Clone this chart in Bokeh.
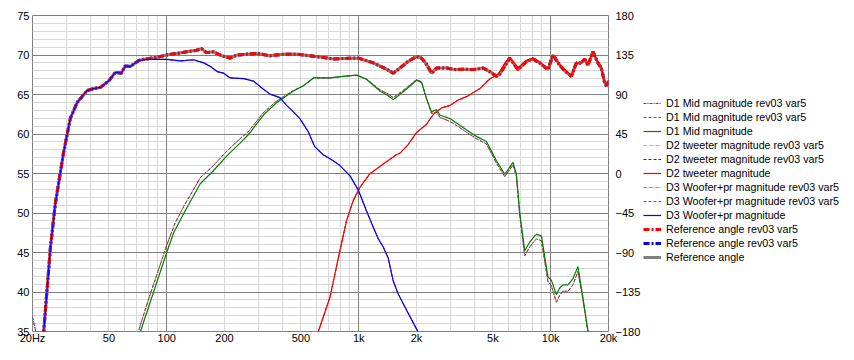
import math
from bokeh.plotting import figure
from bokeh.layouts import row
from bokeh.models import Range1d, LinearAxis, FixedTicker, Grid, Legend, LegendItem, Label
from bokeh.embed import file_html
from bokeh.resources import INLINE

NaN = float("nan")

# ---- axes / ticks ----
x_ticks = [20, 50, 100, 200, 500, 1000, 2000, 5000, 10000, 20000]
x_tick_labels = ["20Hz", "50", "100", "200", "500", "1k", "2k", "5k", "10k", "20k"]
x_minor_grid = [30, 40, 50, 60, 70, 80, 90, 200, 300, 400, 500, 600, 700, 800, 900,
                2000, 3000, 4000, 5000, 6000, 7000, 8000, 9000]
x_major_grid = [100, 1000, 10000]
db_ticks = [35, 40, 45, 50, 55, 60, 65, 70, 75]
db_minor_grid = list(range(35, 76))
deg_ticks = [-180, -135, -90, -45, 0, 45, 90, 135, 180]

# ---- data ----
total_f = [22.5, 22.9, 24.8, 26.3, 29.1, 31.5, 34.2, 38.5, 41.7, 45.2,
           49.8, 54, 58, 60.8, 64.6, 71.5, 76, 88.6, 100, 113,
           127, 143, 152, 161, 175, 194, 214, 232, 261, 294,
           345, 405, 474, 557, 651, 737, 899, 1000, 1191, 1398,
           1513, 1640, 1810, 2002, 2126, 2258, 2396, 2544, 2868, 3168,
           3498, 3944, 4446, 4818, 5218, 5430, 6118, 6760, 7472, 8093,
           8765, 9680, 10277, 11137, 12070, 12812, 13600, 14440, 15020, 15620,
           16594, 17620, 18350, 19080, 19480, 20000]
total_db = [33, 35.1, 45.65, 51.2, 57.8, 62.0, 64.0, 65.5, 65.75, 65.9,
            66.7, 67.8, 67.7, 68.6, 68.55, 69.3, 69.45, 69.7, 70.0, 70.2,
            70.4, 70.6, 70.8, 70.3, 70.4, 69.9, 69.6, 70.0, 70.1, 70.2,
            69.9, 70.1, 70.1, 69.9, 69.7, 69.5, 69.6, 69.6, 69.0, 68.2,
            67.7, 68.35, 69.2, 69.8, 69.6, 68.8, 67.7, 68.35, 68.35, 68.15,
            68.2, 68.15, 68.35, 67.9, 67.3, 67.6, 69.6, 68.15, 69.2, 69.5,
            69.0, 68.15, 70.0, 68.7, 67.8, 67.3, 69.0, 69.0, 69.5, 68.7,
            70.4, 69.0, 68.35, 66.5, 66.1, 66.7]

woofer_f = [22.5, 22.9, 24.8, 26.3, 29.1, 31.5, 34.2, 38.5, 41.7, 45.2,
            49.8, 54, 58, 60.8, 64.6, 71.5, 79, 100, 118, 138,
            156, 169, 183, 198, 214, 252, 283, 318, 345, 389,
            422, 457, 494, 546, 590, 651, 737, 799, 901, 995,
            1101, 1191, 1264, 1342, 1425, 1513, 1606, 1776, 2002, 2150]
woofer_db = [33, 35.1, 45.65, 51.2, 57.8, 62.0, 64.0, 65.5, 65.75, 65.9,
             66.7, 67.8, 67.7, 68.6, 68.55, 69.3, 69.45, 69.45, 69.25, 69.4,
             69.0, 68.55, 67.9, 67.7, 67.1, 67.0, 66.7, 65.7, 65.05, 64.6,
             63.6, 62.8, 61.95, 60.3, 58.4, 57.4, 56.6, 56.0, 54.7, 52.9,
             50.2, 48.2, 46.75, 45.7, 44.3, 41.4, 39.75, 37.7, 35.3, 33.8]

mid_f = [70, 73, 100, 108.7, 123, 149.5, 175, 205, 241, 266,
         319, 375, 457, 515, 581, 709, 831, 976, 1100, 1290,
         1425, 1513, 1606, 1776, 2002, 2126, 2258, 2396, 2544, 2647,
         2984, 3364, 3868, 4106, 4628, 5218, 5764, 6366, 6630, 6900,
         7325, 7776, 8257, 8424, 8944, 9680, 10080, 10706, 11137, 11586,
         12300, 13060, 13866, 14724, 15628, 16000]
mid_db = [34, 35, 45.0, 47.5, 50.0, 53.7, 55.35, 57.2, 58.85, 59.9,
          62.4, 64.0, 65.45, 66.1, 67.1, 67.1, 67.3, 67.45, 66.9, 65.45,
          64.85, 64.35, 64.85, 65.7, 66.8, 66.5, 64.45, 62.8, 63.1, 62.4,
          61.95, 61.1, 60.1, 59.7, 59.05, 56.6, 54.9, 56.4, 54.9, 50.0,
          45.25, 46.3, 47.1, 47.3, 47.1, 41.9, 41.5, 39.65, 40.5, 40.9,
          40.9, 41.7, 43.2, 39.25, 35.1, 33]

mid_rev_f = [20, 20.8, NaN, 69, 71.2, 80, 100, 110, 123, 150,
             175, 205, 241, 266, 319, 375, 457, 515, 581, 709,
             831, 976, 1100, 1290, 1425, 1513, 1606, 1776, 2002, 2126,
             2258, 2396, 2544, 2647, 2984, 3364, 3868, 4106, 4628, 5218,
             5764, 6366, 6630, 6900, 7325, 7776, 8257, 8424, 8944, 9680,
             10080, 10706, 11137, 11586, 12300, 13060, 13866, 14724, 15628, 16000]
mid_rev_db = [36.8, 35, NaN, 34, 35, 38.9, 45.9, 48.6, 50.9, 54.5,
              56.0, 57.8, 59.4, 60.3, 62.7, 64.2, 65.5, 66.1, 67.1, 67.1,
              67.3, 67.45, 66.95, 65.6, 65.05, 64.6, 65.05, 65.85, 66.9, 66.6,
              64.4, 62.6, 62.8, 62.1, 61.6, 60.8, 59.8, 59.4, 58.75, 56.3,
              54.6, 56.1, 54.6, 49.7, 44.6, 45.7, 46.5, 46.7, 46.5, 41.3,
              40.8, 38.7, 39.6, 40.1, 40.1, 40.9, 42.6, 39.0, 35, 33]

tweeter_f = [600, 616, 708, 799, 866, 937, 1013, 1141, 1342, 1576,
             1646, 1800, 2002, 2250, 2450, 2700, 2984, 3300, 3700, 4300,
             4830, 5340, 5780, 6118, 6760, 7472, 8093, 8765, 9680, 10277,
             11137, 12070, 12812, 13600, 14440, 15020, 15620, 16594, 17620, 18350,
             19080, 19480, 20000]
tweeter_db = [34, 35, 39.3, 45.3, 49.1, 51.6, 53.2, 54.95, 56.2, 57.4,
              57.6, 58.6, 60.2, 61.2, 62.5, 63.3, 63.6, 64.3, 64.8, 65.8,
              67.0, 67.6, 69.0, 69.7, 68.4, 69.3, 69.6, 69.1, 68.3, 70.0,
              68.8, 68.0, 67.4, 68.9, 69.0, 69.5, 68.8, 70.4, 69.0, 68.4,
              66.6, 66.2, 66.8]

legend_labels = ["D1 Mid magnitude rev03 var5", "D1 Mid magnitude rev03 var5", "D1 Mid magnitude",
                 "D2 tweeter magnitude rev03 var5", "D2 tweeter magnitude rev03 var5", "D2 tweeter magnitude",
                 "D3 Woofer+pr magnitude rev03 var5", "D3 Woofer+pr magnitude rev03 var5", "D3 Woofer+pr magnitude",
                 "Reference angle rev03 var5", "Reference angle rev03 var5", "Reference angle"]

FONT = "Liberation Sans"
FS = "11px"

# ---- line styles (shared by chart and legend) ----
st_ref_blue = dict(line_color="#0000ff", line_width=3, line_dash="6 2 2 2")
st_ref_grey = dict(line_color="#808080", line_width=3)
st_ref_red = dict(line_color="#ff0000", line_width=3, line_dash="6 2 2 2")
st_mid_a = dict(line_color="#8b4513", line_width=1, line_dash="3 1 1 1")
st_mid_b = dict(line_color="#9932cc", line_width=1, line_dash="3 2")
st_tw_a = dict(line_color="#ffa500", line_width=1, line_dash="3 1 1 1")
st_tw_b = dict(line_color="#800080", line_width=1, line_dash="3 2")
st_wf_a = dict(line_color="#b8860b", line_width=1, line_dash="3 1 1 1")
st_wf_b = dict(line_color="#ff00ff", line_width=1, line_dash="3 2")
st_mid = dict(line_color="#008000", line_width=1.2)
st_tw = dict(line_color="#ff0000", line_width=1.2)
st_wf = dict(line_color="#0000ff", line_width=1.2)

p = figure(width=640, frame_width=576, frame_height=316, x_axis_type="log",
           x_range=Range1d(20, 20000), y_range=Range1d(35, 75),
           output_backend="svg", toolbar_location=None,
           min_border_left=32, min_border_right=32,
           min_border_top=15, min_border_bottom=0)
p.extra_y_ranges = {"deg": Range1d(-180, 180)}
p.background_fill_color = "white"
p.border_fill_color = "white"
p.outline_line_color = "#7f7f7f"
p.outline_line_width = 1
p.grid.visible = False

right_axis = LinearAxis(y_range_name="deg")
p.add_layout(right_axis, "right")

p.xaxis.ticker = FixedTicker(ticks=x_ticks)
p.xaxis.major_label_overrides = {t: l for t, l in zip(x_ticks, x_tick_labels)}
p.yaxis[0].ticker = FixedTicker(ticks=db_ticks)
right_axis.ticker = FixedTicker(ticks=deg_ticks)

for ax in [p.xaxis[0], p.yaxis[0], right_axis]:
    ax.axis_line_color = None
    ax.major_tick_line_color = None
    ax.minor_tick_line_color = None
    ax.major_tick_out = 0
    ax.major_tick_in = 0
    ax.minor_tick_out = 0
    ax.minor_tick_in = 0
    ax.axis_label_standoff = 0
    ax.major_label_text_font = FONT
    ax.major_label_text_font_size = FS
    ax.major_label_text_color = "#000000"
p.xaxis[0].major_label_standoff = 0
p.yaxis[0].major_label_standoff = 3
right_axis.major_label_standoff = 7

for dim, ticks, col in [(0, x_minor_grid, "#d8d8d8"), (1, db_minor_grid, "#d8d8d8"),
                        (0, x_major_grid, "#808080"), (1, db_ticks, "#808080")]:
    g = Grid(dimension=dim, ticker=FixedTicker(ticks=ticks), grid_line_color=col, grid_line_width=1)
    p.add_layout(g)

# reference (summed) curves, thick
p.line(total_f, total_db, **st_ref_blue)
p.line(total_f, total_db, **st_ref_grey)
p.line(total_f, total_db, **st_ref_red)
# thin driver curves
p.line(mid_rev_f, mid_rev_db, **st_mid_b)
p.line(mid_rev_f, mid_rev_db, **st_mid_a)
p.line(tweeter_f, tweeter_db, **st_tw_a)
p.line(tweeter_f, tweeter_db, **st_tw_b)
p.line(woofer_f, woofer_db, **st_wf_a)
p.line(woofer_f, woofer_db, **st_wf_b)
p.line(mid_f, mid_db, **st_mid)
p.line(tweeter_f, tweeter_db, **st_tw)
p.line(woofer_f, woofer_db, **st_wf)

for txt, xv, align, xo in [("dB", 20, "left", 3), ("SPL", 632.5, "center", 0), ("deg", 20000, "right", -2)]:
    p.add_layout(Label(x=xv, y=75, x_offset=xo, y_offset=1, text=txt,
                       text_align=align, text_baseline="bottom",
                       text_font=FONT, text_font_size=FS, text_color="#000000"))

# ---- legend panel (separate figure to the right of the chart) ----
pl = figure(width=198, height=344, x_range=Range1d(0, 1), y_range=Range1d(0, 1),
            output_backend="svg", toolbar_location=None,
            x_axis_location=None, y_axis_location=None, min_border=0)
pl.outline_line_color = None
pl.grid.visible = False
pl.background_fill_color = "white"
pl.border_fill_color = "white"

styles = [st_mid_a, st_mid_b, st_mid, st_tw_a, st_tw_b, st_tw,
          st_wf_a, st_wf_b, st_wf, st_ref_red, st_ref_blue, st_ref_grey]
items = []
for lab, st in zip(legend_labels, styles):
    # legend-only proxy line, kept outside the visible range of this panel
    r = pl.line([5, 6], [5, 6], **st)
    items.append(LegendItem(label=lab, renderers=[r]))
legend = Legend(items=items, location=(0, 65),
                label_text_font=FONT, label_text_font_size="10.7px", label_text_color="#000000",
                glyph_width=18, glyph_height=14, label_height=14, label_standoff=5,
                spacing=0, padding=0, margin=0,
                border_line_color=None, background_fill_alpha=0)
pl.add_layout(legend)

layout = row(p, pl, spacing=0)
open("out.html", "w").write(file_html(layout, INLINE))
